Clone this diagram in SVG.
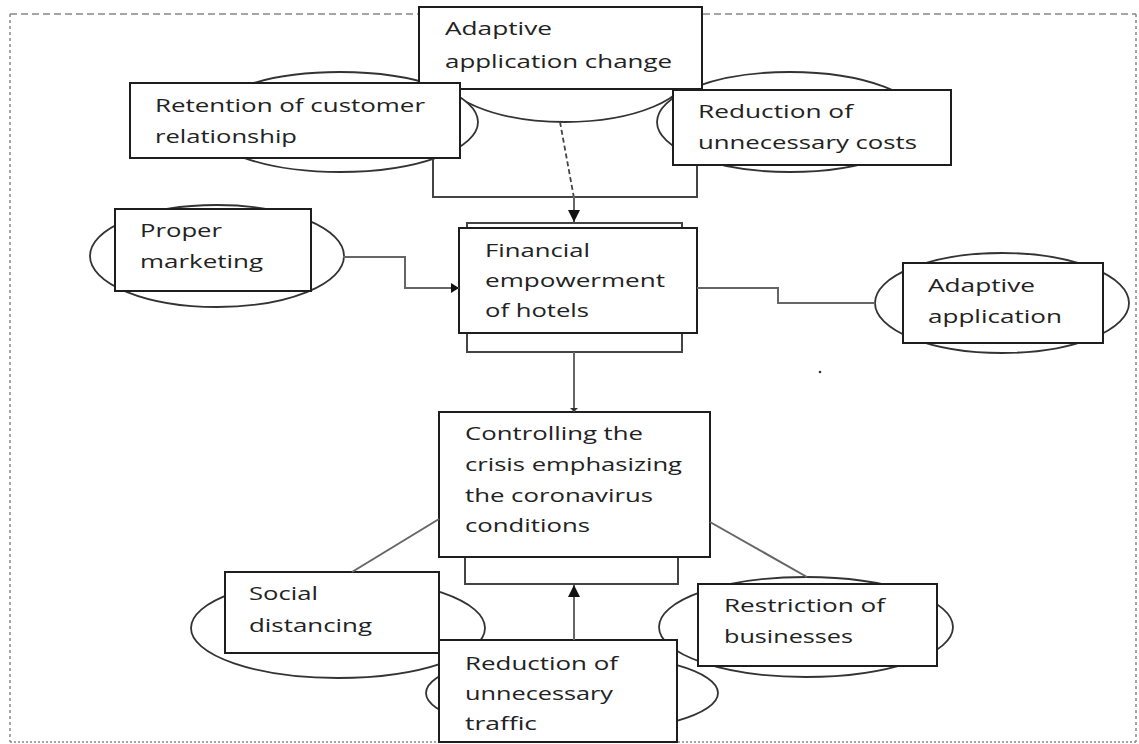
<svg xmlns="http://www.w3.org/2000/svg" width="1139" height="744" viewBox="0 0 1139 744">
<style>
.bg{fill:#fff}
.ell{fill:#fff;stroke:#333;stroke-width:1.8}
.box{fill:#fff;stroke:#1e1e1e;stroke-width:2}
.back{fill:none;stroke:#444;stroke-width:2}
.conn{fill:none;stroke:#666;stroke-width:2}
.dash{fill:none;stroke:#444;stroke-width:1.8;stroke-dasharray:5 3}
.t{font-family:"Open Sans","Noto Sans",sans-serif;font-size:19px;fill:#222}
.frame{fill:none;stroke:#888;stroke-width:1.5}
</style>
<defs>
<marker id="arr" markerUnits="userSpaceOnUse" markerWidth="12" markerHeight="12" refX="12" refY="6" orient="auto">
<path d="M0,0 L12,6 L0,12 Z" fill="#111"/>
</marker>
<marker id="arrS" markerUnits="userSpaceOnUse" markerWidth="8" markerHeight="10" refX="8" refY="5" orient="auto">
<path d="M0,0 L8,5 L0,10 Z" fill="#111"/>
</marker>
<marker id="tick" markerUnits="userSpaceOnUse" markerWidth="4" markerHeight="12" refX="4" refY="6" orient="auto">
<path d="M0,2 L4,6 L0,10 Z" fill="#333"/>
</marker>
</defs>
<rect class="bg" x="0" y="0" width="1139" height="744"/>
<g id="frame">
<line class="frame" x1="10" y1="14" x2="1136" y2="14" stroke-dasharray="7 4"/>
<line class="frame" x1="10" y1="14" x2="10" y2="742" stroke-dasharray="3 3"/>
<line class="frame" x1="1136" y1="14" x2="1136" y2="742" stroke-dasharray="3 3" stroke="#555"/>
<line class="frame" x1="10" y1="742" x2="1136" y2="742" stroke-dasharray="2 2" stroke="#bbb"/>
</g>
<g id="node-adaptive-change-ellipse">
<ellipse class="ell" cx="565" cy="70" rx="125" ry="52"/>
</g>
<g id="node-retention">
<ellipse class="ell" cx="340" cy="122" rx="138" ry="50"/>
</g>
<g id="node-reduction-costs-ellipse">
<ellipse class="ell" cx="790" cy="122" rx="133" ry="50"/>
</g>
<g id="node-adaptive-change-back">
<path class="back" d="M433,40 V197 H697 V40"/>
</g>
<g id="node-adaptive-change">
<rect class="box" x="419" y="7" width="283" height="82"/>
<text class="t" x="445" y="35" textLength="107" lengthAdjust="spacingAndGlyphs">Adaptive</text>
<text class="t" x="445" y="68" textLength="227" lengthAdjust="spacingAndGlyphs">application change</text>
</g>
<g id="node-retention-box">
<rect class="box" x="130" y="83" width="330" height="75"/>
<text class="t" x="155" y="112" textLength="270" lengthAdjust="spacingAndGlyphs">Retention of customer</text>
<text class="t" x="155" y="143" textLength="142" lengthAdjust="spacingAndGlyphs">relationship</text>
</g>
<g id="node-reduction-costs">
<rect class="box" x="673" y="90" width="278" height="75"/>
<text class="t" x="698" y="118" textLength="155" lengthAdjust="spacingAndGlyphs">Reduction of</text>
<text class="t" x="698" y="149" textLength="219" lengthAdjust="spacingAndGlyphs">unnecessary costs</text>
</g>
<g id="node-proper-marketing">
<ellipse class="ell" cx="217" cy="256" rx="127" ry="51"/>
<rect class="box" x="115" y="209" width="196" height="82"/>
<text class="t" x="140" y="237" textLength="82" lengthAdjust="spacingAndGlyphs">Proper</text>
<text class="t" x="140" y="268" textLength="123" lengthAdjust="spacingAndGlyphs">marketing</text>
</g>
<g id="node-financial">
<rect class="back" x="467" y="223" width="215" height="129"/>
<rect class="box" x="459" y="228" width="238" height="105"/>
<text class="t" x="485" y="257" textLength="105" lengthAdjust="spacingAndGlyphs">Financial</text>
<text class="t" x="485" y="287" textLength="180" lengthAdjust="spacingAndGlyphs">empowerment</text>
<text class="t" x="485" y="317" textLength="104" lengthAdjust="spacingAndGlyphs">of hotels</text>
</g>
<g id="node-adaptive-application">
<ellipse class="ell" cx="1002" cy="303" rx="127" ry="50"/>
<rect class="box" x="903" y="263" width="200" height="80"/>
<text class="t" x="928" y="292" textLength="107" lengthAdjust="spacingAndGlyphs">Adaptive</text>
<text class="t" x="928" y="323" textLength="134" lengthAdjust="spacingAndGlyphs">application</text>
</g>
<g id="stray-dot">
<circle cx="820" cy="372" r="1.3" fill="#333"/>
</g>
<g id="node-controlling">
<rect class="back" x="465" y="430" width="213" height="154"/>
<rect class="box" x="439" y="412" width="271" height="145"/>
<text class="t" x="465" y="440" textLength="178" lengthAdjust="spacingAndGlyphs">Controlling the</text>
<text class="t" x="465" y="471" textLength="217" lengthAdjust="spacingAndGlyphs">crisis emphasizing</text>
<text class="t" x="465" y="502" textLength="188" lengthAdjust="spacingAndGlyphs">the coronavirus</text>
<text class="t" x="465" y="532" textLength="125" lengthAdjust="spacingAndGlyphs">conditions</text>
</g>
<g id="node-social">
<ellipse class="ell" cx="338" cy="628" rx="147" ry="50"/>
<rect class="box" x="225" y="572" width="214" height="81"/>
<text class="t" x="249" y="600" textLength="69" lengthAdjust="spacingAndGlyphs">Social</text>
<text class="t" x="249" y="632" textLength="123" lengthAdjust="spacingAndGlyphs">distancing</text>
</g>
<g id="node-restriction">
<ellipse class="ell" cx="806" cy="627" rx="147" ry="50"/>
<rect class="box" x="698" y="584" width="239" height="82"/>
<text class="t" x="724" y="612" textLength="161" lengthAdjust="spacingAndGlyphs">Restriction of</text>
<text class="t" x="724" y="643" textLength="129" lengthAdjust="spacingAndGlyphs">businesses</text>
</g>
<g id="node-traffic">
<ellipse class="ell" cx="572" cy="693" rx="146" ry="40"/>
<rect class="box" x="439" y="640" width="238" height="102"/>
<text class="t" x="465" y="670" textLength="153" lengthAdjust="spacingAndGlyphs">Reduction of</text>
<text class="t" x="465" y="700" textLength="148" lengthAdjust="spacingAndGlyphs">unnecessary</text>
<text class="t" x="465" y="730" textLength="72" lengthAdjust="spacingAndGlyphs">traffic</text>
</g>
<g id="connectors">
<path class="dash" d="M560,122 L574,198"/>
<path class="conn" d="M574,196 V222" stroke="#333" marker-end="url(#arr)"/>
<path class="conn" d="M343,257 H405 V288 H459" marker-end="url(#arrS)"/>
<path class="conn" d="M697,288 H778 V303 H875"/>
<path class="conn" d="M574,352 V412" marker-end="url(#tick)"/>
<path class="conn" d="M574,640 V585" marker-end="url(#arr)"/>
<path class="conn" d="M439,519 L352,572" stroke="#444"/>
<path class="conn" d="M710,522 L807,577" stroke="#444"/>
</g>
</svg>
